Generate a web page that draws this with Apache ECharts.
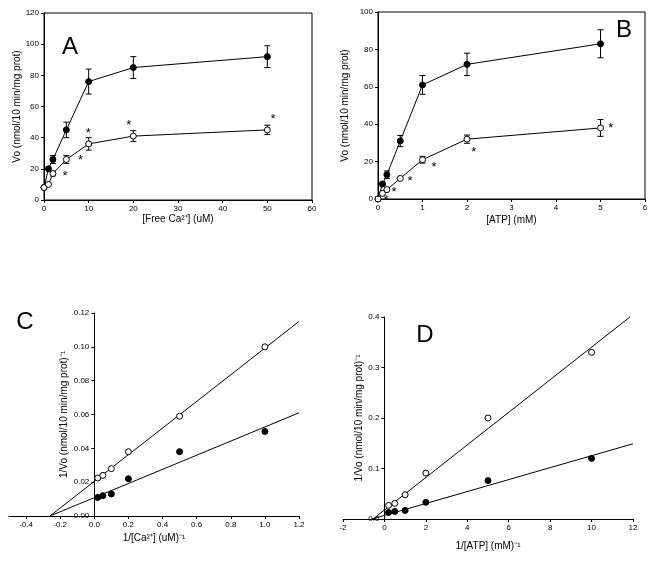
<!DOCTYPE html>
<html><head><meta charset="utf-8">
<script src="https://cdn.jsdelivr.net/npm/echarts@6/dist/echarts.min.js"></script>
<style>html,body{margin:0;padding:0;background:#fff}#c{width:660px;height:563px}</style>
</head><body><div id="c"></div>
<script>
// Panel A
const aX = [0, 1, 2, 5, 10, 20, 50];
const aFilled = [8, 20, 26, 45, 76, 85, 92];
const aFilledErr = [0, 0, 2.5, 5, 8, 7, 7];
const aOpen = [8, 10, 17, 26, 36, 41, 45];
const aOpenErr = [0, 0, 1.5, 2.5, 4, 3.5, 3];
const aStarX = [4.7, 8.2, 9.9, 19, 51.3];
const aStarY = [15, 25.5, 43, 48, 51.5];
// Panel B
const bX = [0, 0.1, 0.2, 0.5, 1, 2, 5];
const bFilled = [0, 8, 13, 31, 61, 72, 83];
const bFilledErr = [0, 1, 2, 3, 5, 6, 7.5];
const bOpen = [0, 3, 5, 11, 21, 32, 38];
const bOpenErr = [0, 0, 0, 0, 1.8, 2.2, 4.5];
const bStarX = [0.18, 0.36, 0.72, 1.26, 2.15, 5.23];
const bStarY = [-1, 3.5, 9.5, 16.8, 25, 38];
// Panel C
const cX = [0.02, 0.05, 0.1, 0.2, 0.5, 1.0];
const cOpen = [0.0225, 0.024, 0.028, 0.038, 0.059, 0.100];
const cFilled = [0.011, 0.012, 0.013, 0.022, 0.038, 0.050];
const cFitX = [-0.26, 1.2];
const cOpenFit = [0, 0.115];
const cFilledFit = [0, 0.061];
const cTicks = [-0.4, -0.2, 0, 0.2, 0.4, 0.6, 0.8, 1.0, 1.2];
// Panel D
const dX = [0.2, 0.5, 1, 2, 5, 10];
const dOpen = [0.027, 0.031, 0.048, 0.091, 0.200, 0.330];
const dFilled = [0.013, 0.015, 0.017, 0.033, 0.076, 0.120];
const dOpenFitX = [-0.55, 11.85];
const dOpenFit = [0, 0.4];
const dFilledFitX = [-0.6, 12];
const dFilledFit = [0, 0.149];

const FONT = 'Liberation Sans';
const pairs = (xs, ys) => xs.map((x, i) => [x, ys[i]]);
const triples = (xs, ys, es) => xs.map((x, i) => [x, ys[i], es[i]]);

function errSeries(idx, data) {
  return {
    type: 'custom', xAxisIndex: idx, yAxisIndex: idx, z: 3, clip: false,
    data: data.filter(d => d[2] > 0),
    renderItem: function (params, api) {
      const x = api.value(0), y = api.value(1), e = api.value(2);
      const hi = api.coord([x, y + e]), lo = api.coord([x, y - e]);
      const w = 3;
      const st = { stroke: '#000', lineWidth: 1 };
      return { type: 'group', children: [
        { type: 'line', shape: { x1: hi[0], y1: hi[1], x2: lo[0], y2: lo[1] }, style: st },
        { type: 'line', shape: { x1: hi[0] - w, y1: hi[1], x2: hi[0] + w, y2: hi[1] }, style: st },
        { type: 'line', shape: { x1: lo[0] - w, y1: lo[1], x2: lo[0] + w, y2: lo[1] }, style: st }
      ]};
    }
  };
}
function starSeries(idx, data) {
  return {
    type: 'custom', xAxisIndex: idx, yAxisIndex: idx, z: 4, clip: false,
    data: data,
    renderItem: function (params, api) {
      const p = api.coord([api.value(0), api.value(1)]);
      return { type: 'text', x: p[0], y: p[1], style: { text: '*', font: '13px ' + FONT, fill: '#000', align: 'center', verticalAlign: 'middle' } };
    }
  };
}
function lineSeries(idx, data, filled, showLine) {
  return {
    type: 'line', xAxisIndex: idx, yAxisIndex: idx, data: data, z: filled ? 5 : 6,
    symbol: 'circle', symbolSize: 6, showSymbol: true,
    lineStyle: { color: '#000', width: 1, opacity: showLine ? 1 : 0 },
    itemStyle: { color: filled ? '#000' : '#fff', borderColor: '#000', borderWidth: 1 },
    animation: false, clip: false
  };
}
function fitSeries(idx, data) {
  return { type: 'line', xAxisIndex: idx, yAxisIndex: idx, data: data, symbol: 'none',
    lineStyle: { color: '#000', width: 1 }, z: 2, animation: false, clip: false };
}
const axisCommon = {
  axisLine: { show: true, onZero: false, lineStyle: { color: '#000', width: 1 } },
  axisTick: { show: true, length: 3, lineStyle: { color: '#000' } },
  splitLine: { show: false },
  axisLabel: { color: '#000', fontFamily: FONT, fontSize: 8, margin: 5 },
  nameTextStyle: { color: '#000', fontFamily: FONT, fontSize: 10 },
  nameLocation: 'middle'
};
function ax(o) { return Object.assign({ type: 'value' }, JSON.parse(JSON.stringify(axisCommon)), o,
  { axisLabel: Object.assign({}, axisCommon.axisLabel, o.axisLabel || {}) }); }

const fmt1 = v => v.toFixed(1);
const fmt2 = v => v.toFixed(2);

// grid geometry (layout only)
const gC = { left: 9, top: 313, width: 290, height: 203 };
const gD = { left: 343, top: 317, width: 290, height: 202 };
const cXMin = -0.5, cXMax = 1.2, dXMin = -2, dXMax = 12;
// shift the y axes of C and D to cross the x axis at zero
const cYOffset = -gC.width * (0 - cXMin) / (cXMax - cXMin);
const dYOffset = -gD.width * (0 - dXMin) / (dXMax - dXMin);

const option = {
  backgroundColor: '#fff',
  animation: false,
  grid: [
    { left: 44, top: 13, width: 268, height: 187, show: true, borderColor: '#000', borderWidth: 1, outerBoundsMode: 'none' },
    { left: 378, top: 12, width: 267, height: 187, show: true, borderColor: '#000', borderWidth: 1, outerBoundsMode: 'none' },
    Object.assign({ outerBoundsMode: 'none' }, gC),
    Object.assign({ outerBoundsMode: 'none' }, gD)
  ],
  xAxis: [
    ax({ gridIndex: 0, min: 0, max: 60, interval: 10, name: '[Free Ca²⁺] (uM)', nameGap: 14 }),
    ax({ gridIndex: 1, min: 0, max: 6, interval: 1, name: '[ATP] (mM)', nameGap: 16 }),
    ax({ gridIndex: 2, min: cXMin, max: cXMax, name: '1/[Ca²⁺] (uM)⁻¹', nameGap: 17,
      axisLabel: { customValues: cTicks, formatter: fmt1 }, axisTick: { show: true, length: 3, lineStyle: { color: '#000' }, customValues: cTicks } }),
    ax({ gridIndex: 3, min: dXMin, max: dXMax, interval: 2, name: '1/[ATP] (mM)⁻¹', nameGap: 22 })
  ],
  yAxis: [
    ax({ gridIndex: 0, min: 0, max: 120, interval: 20, name: 'Vo (nmol/10 min/mg prot)', nameGap: 20 }),
    ax({ gridIndex: 1, min: 0, max: 100, interval: 20, name: 'Vo (nmol/10 min/mg prot)', nameGap: 28 }),
    ax({ gridIndex: 2, min: 0, max: 0.12, interval: 0.02, name: '1/Vo (nmol/10 min/mg prot)⁻¹', nameGap: 25,
      offset: cYOffset, axisLabel: { formatter: fmt2 } }),
    ax({ gridIndex: 3, min: 0, max: 0.4, interval: 0.1, name: '1/Vo (nmol/10 min/mg prot)⁻¹', nameGap: 15,
      offset: dYOffset, axisLabel: { formatter: fmt1 } })
  ],
  series: [
    errSeries(0, triples(aX, aFilled, aFilledErr)),
    errSeries(0, triples(aX, aOpen, aOpenErr)),
    lineSeries(0, pairs(aX, aFilled), true, true),
    lineSeries(0, pairs(aX, aOpen), false, true),
    starSeries(0, pairs(aStarX, aStarY)),
    errSeries(1, triples(bX, bFilled, bFilledErr)),
    errSeries(1, triples(bX, bOpen, bOpenErr)),
    lineSeries(1, pairs(bX, bFilled), true, true),
    lineSeries(1, pairs(bX, bOpen), false, true),
    starSeries(1, pairs(bStarX, bStarY)),
    fitSeries(2, pairs(cFitX, cOpenFit)),
    fitSeries(2, pairs(cFitX, cFilledFit)),
    lineSeries(2, pairs(cX, cFilled), true, false),
    lineSeries(2, pairs(cX, cOpen), false, false),
    fitSeries(3, pairs(dOpenFitX, dOpenFit)),
    fitSeries(3, pairs(dFilledFitX, dFilledFit)),
    lineSeries(3, pairs(dX, dFilled), true, false),
    lineSeries(3, pairs(dX, dOpen), false, false)
  ],
  graphic: [
    { type: 'text', x: 70, y: 47, style: { text: 'A', font: '24px ' + FONT, fill: '#000', align: 'center', verticalAlign: 'middle' } },
    { type: 'text', x: 624, y: 30, style: { text: 'B', font: '24px ' + FONT, fill: '#000', align: 'center', verticalAlign: 'middle' } },
    { type: 'text', x: 25, y: 322, style: { text: 'C', font: '24px ' + FONT, fill: '#000', align: 'center', verticalAlign: 'middle' } },
    { type: 'text', x: 425, y: 335, style: { text: 'D', font: '24px ' + FONT, fill: '#000', align: 'center', verticalAlign: 'middle' } }
  ]
};
const chart = echarts.init(document.getElementById('c'), null, { renderer: 'canvas' });
chart.setOption(option);
</script></body></html>
